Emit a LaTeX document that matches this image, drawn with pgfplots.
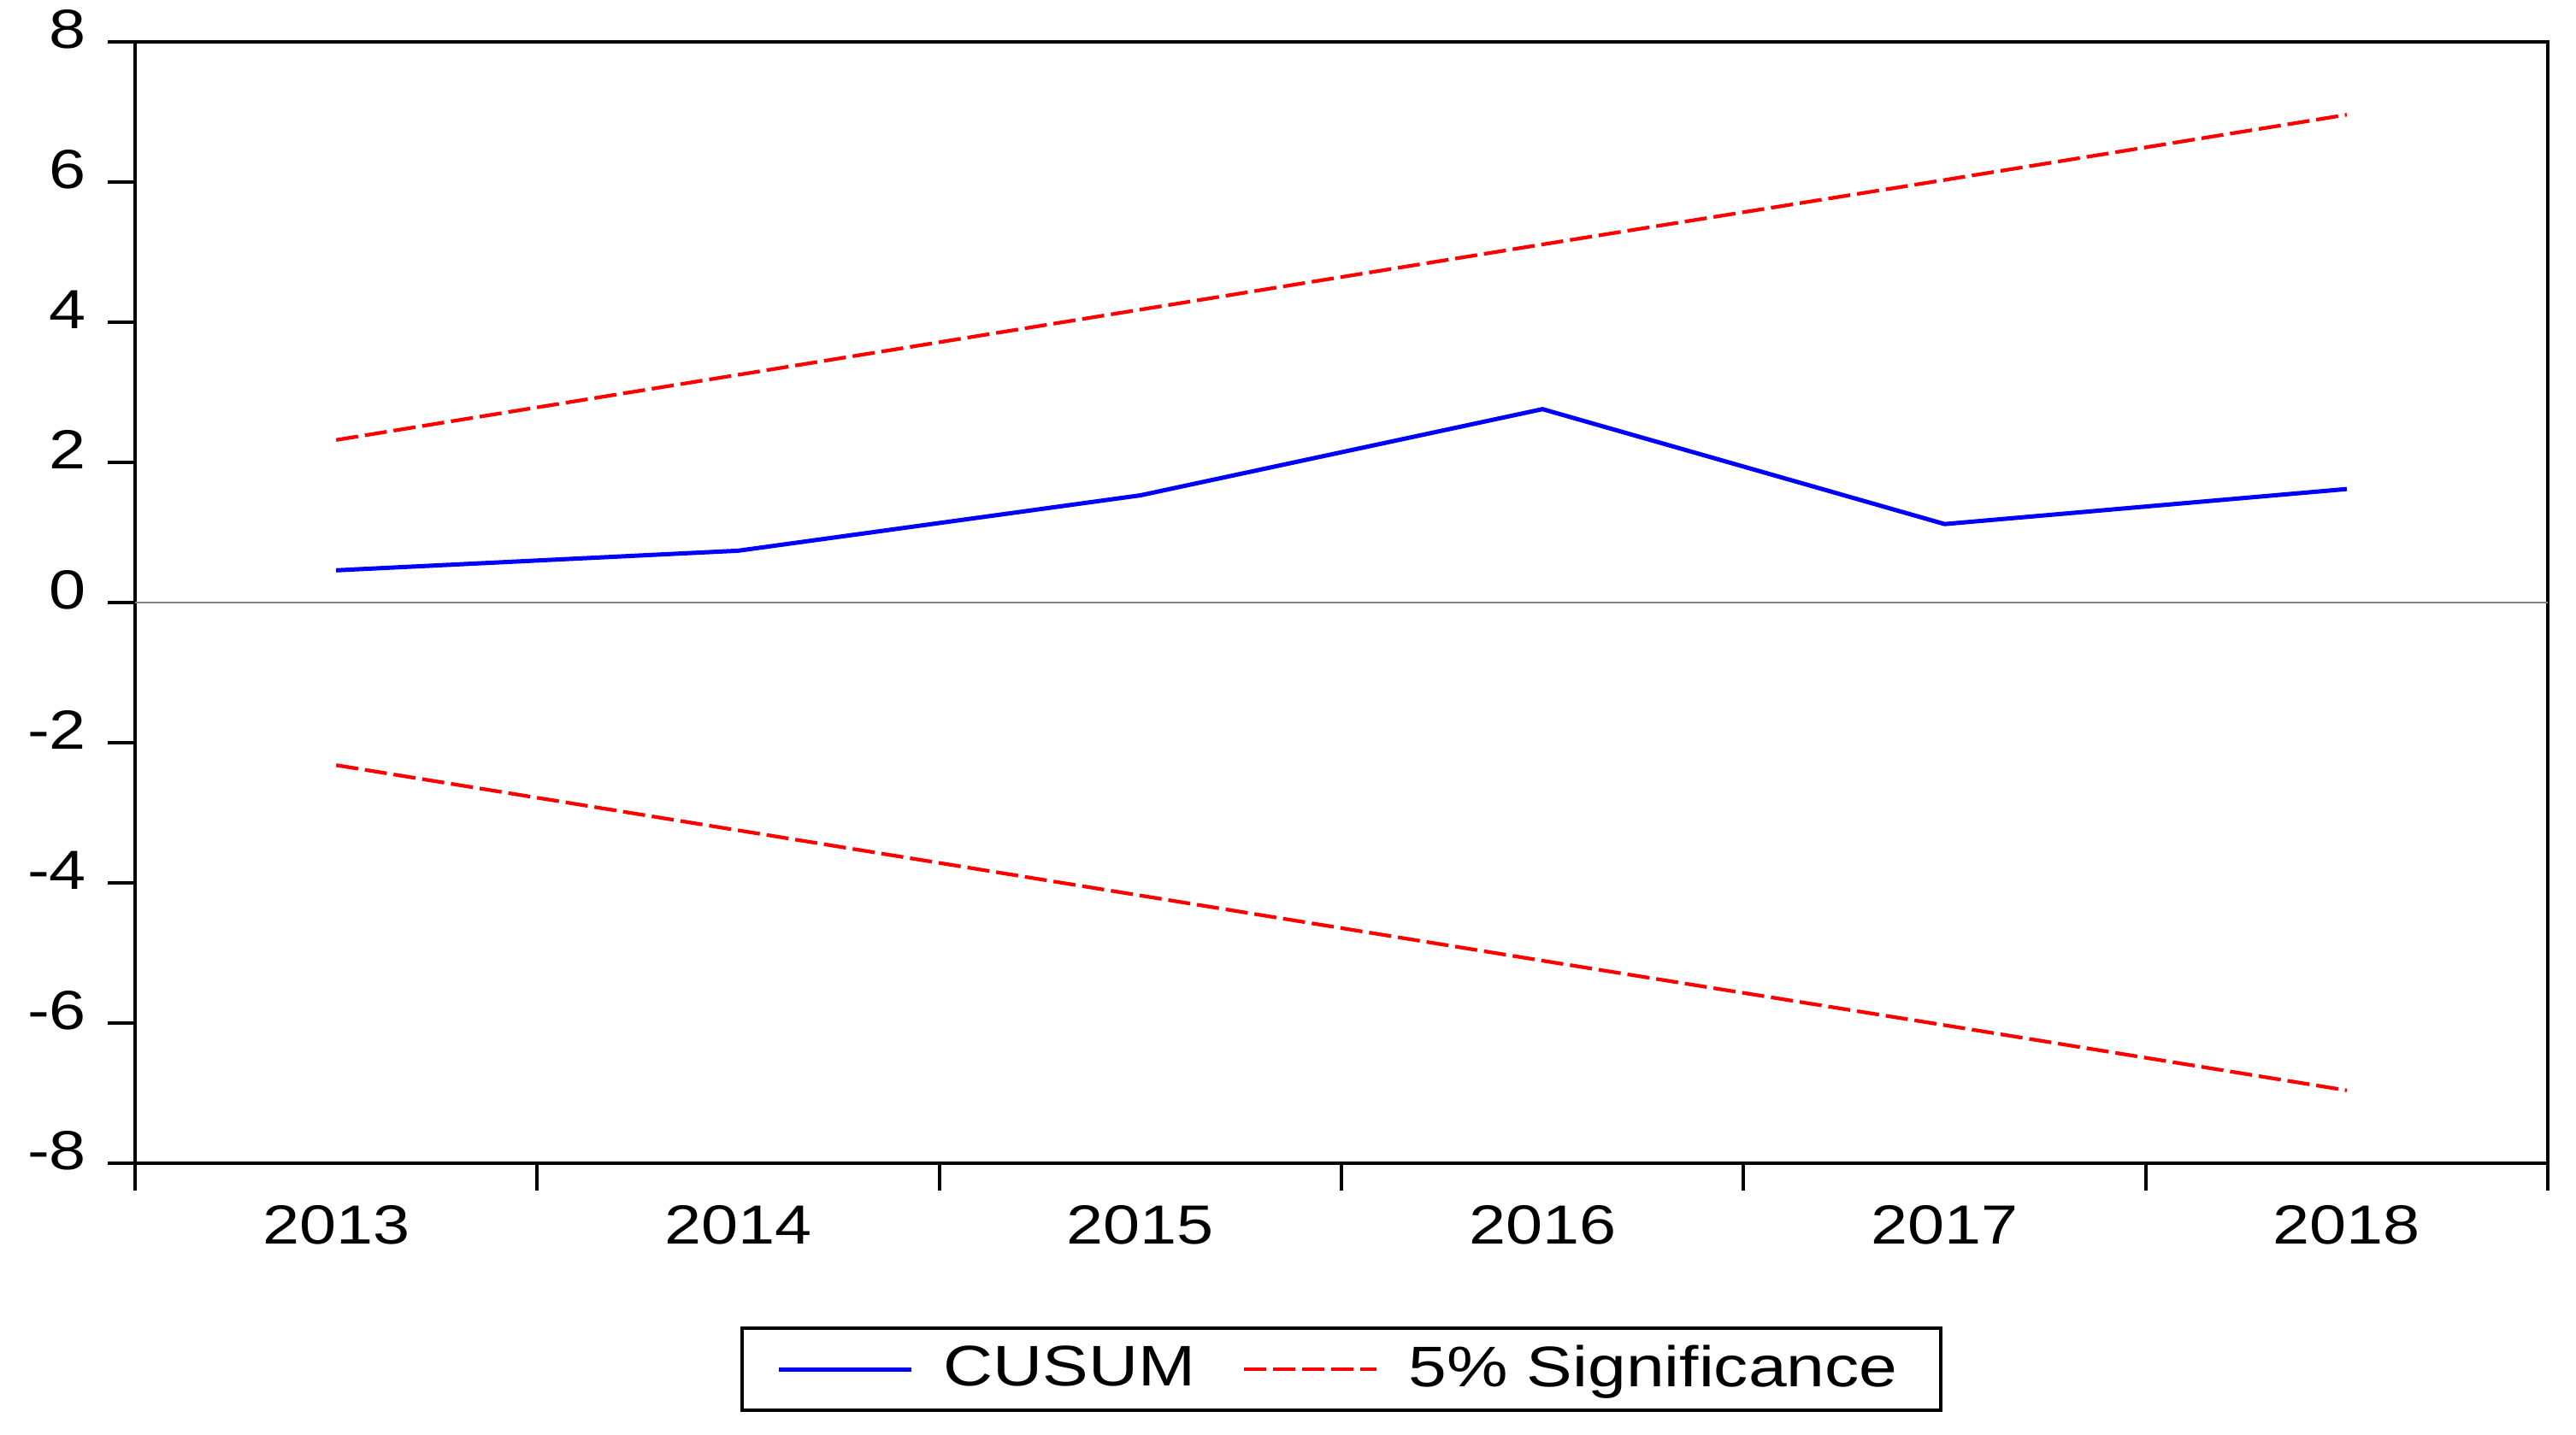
\documentclass[border=0pt]{standalone}
\usepackage{fontspec}
\setmainfont{Liberation Sans}[FakeStretch=1.2]
\usepackage{pgfplots}
\pgfplotsset{compat=1.18}
\begin{document}
\begin{tikzpicture}
\begin{axis}[
  scale only axis, width=564.4pt, height=262.4pt,
  xmin=2012.5, xmax=2018.5, ymin=-8, ymax=8,
  xtick={2012.5,2013.5,2014.5,2015.5,2016.5,2017.5,2018.5},
  x tick label as interval,
  xticklabels={2013,2014,2015,2016,2017,2018},
  ytick={-8,-6,-4,-2,0,2,4,6,8},
  yticklabels={-8,-6,-4,-2,0,2,4,6,8},
  tick pos=left, tick align=outside,
  major tick length=6.4pt,
  every tick/.style={black, line width=0.8pt},
  axis line style={line width=0.8pt},
  ticklabel style={font=\fontsize{12.9}{14}\selectfont},
  yticklabel style={yshift=3pt, xshift=-1.5pt},
  legend columns=2,
  legend style={at={(0.5,-0.1837)}, anchor=center, draw=black, line width=0.8pt,
    font=\fontsize{13.4}{15}\selectfont, inner xsep=8pt, inner ysep=2pt,
    /tikz/every odd column/.append style={column sep=5pt},
    /tikz/every even column/.append style={column sep=9pt}},
  legend image code/.code={\draw[#1] (0pt,0pt) -- (31pt,0pt);},
]
\addplot[gray, line width=0.3pt, forget plot] coordinates {(2012.5,0) (2018.5,0)};
\addplot[blue, line width=1pt] coordinates {
(2013,0.46) (2014,0.74) (2015,1.53) (2016,2.76) (2017,1.12) (2018,1.62)};
\addlegendentry{CUSUM}
\addplot[red, line width=0.85pt, dash pattern=on 5.2pt off 1.6pt] coordinates {
(2013,2.32) (2014,3.25) (2015,4.18) (2016,5.11) (2017,6.03) (2018,6.96)};
\addlegendentry{5\% Significance}
\addplot[red, line width=0.85pt, dash pattern=on 5.2pt off 1.6pt, forget plot] coordinates {
(2013,-2.32) (2014,-3.25) (2015,-4.18) (2016,-5.11) (2017,-6.03) (2018,-6.96)};
\end{axis}
\pgfresetboundingbox
\path ([xshift=-31.6pt,yshift=-63.4pt]current axis.south west) rectangle ([xshift=6.6pt,yshift=9.8pt]current axis.north east);
\end{tikzpicture}
\end{document}
